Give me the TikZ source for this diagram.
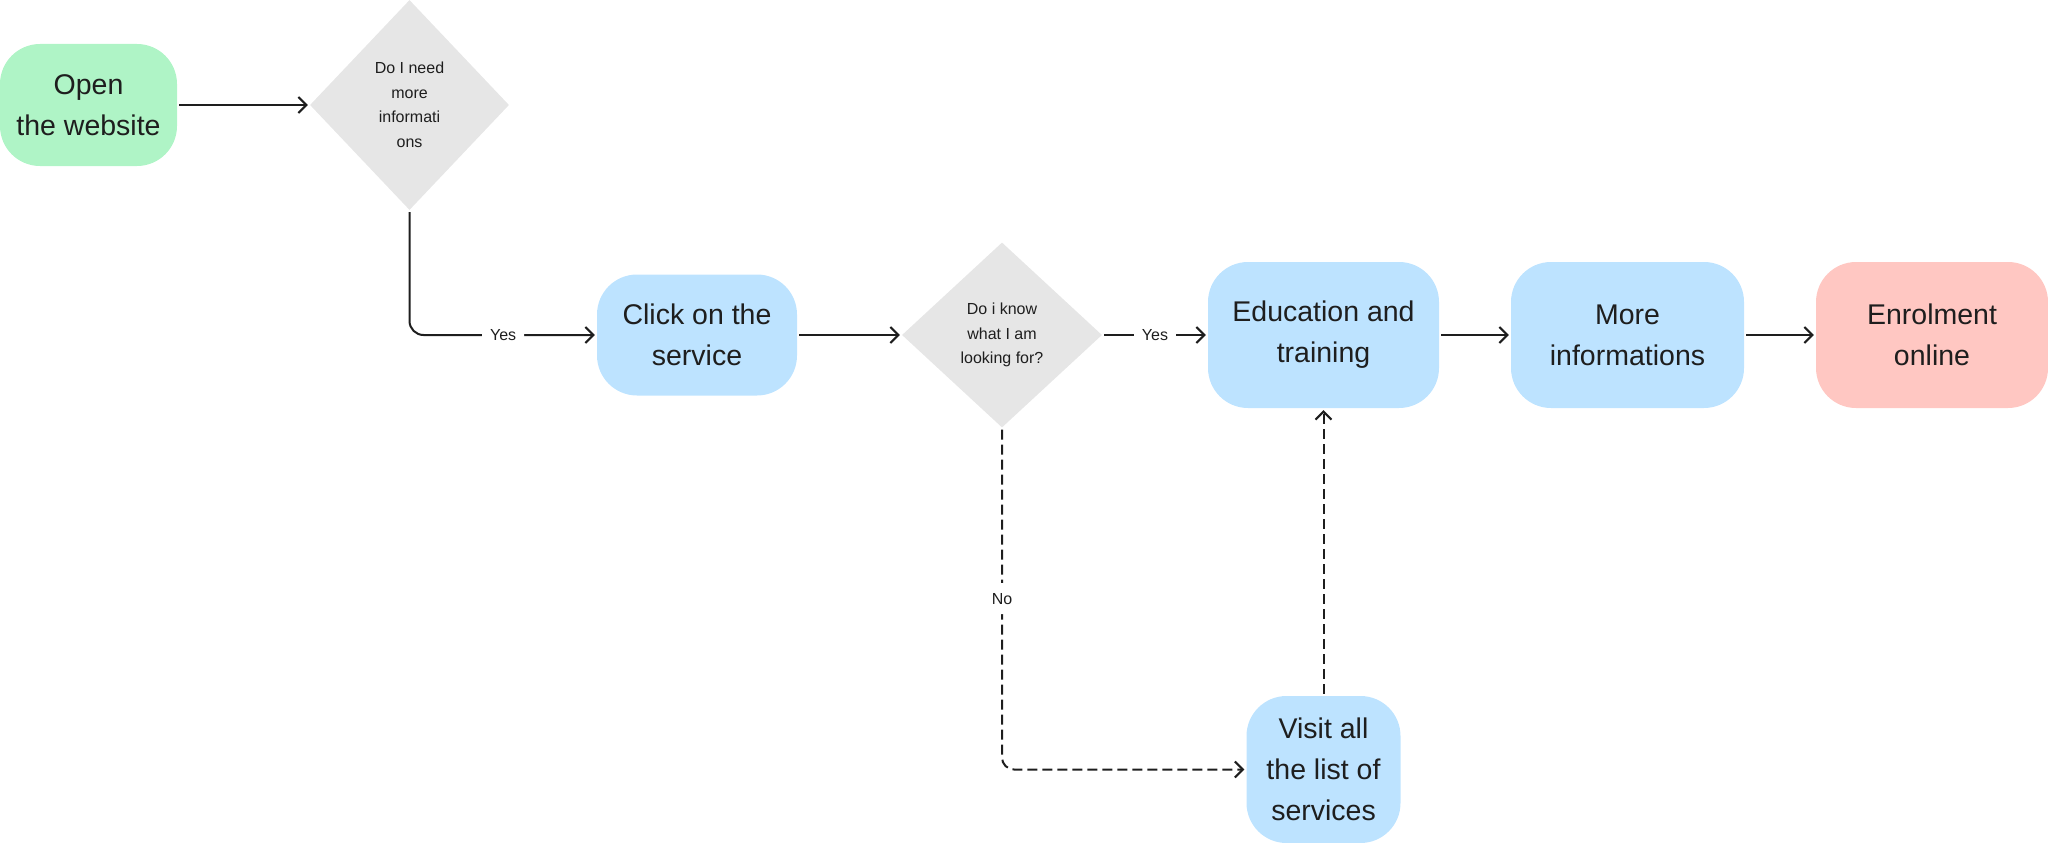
\documentclass[tikz,border=0pt]{standalone}
\usepackage{fontspec}
\setmainfont{Liberation Sans}
\usetikzlibrary{shapes.geometric,arrows.meta}
\definecolor{ink}{HTML}{1E1E1E}
\definecolor{greenfill}{HTML}{AFF4C6}
\definecolor{bluefill}{HTML}{BDE3FF}
\definecolor{redfill}{HTML}{FFC7C2}
\definecolor{decgray}{HTML}{E6E6E6}
\begin{document}
\begin{tikzpicture}[x=1pt,y=-1pt,
  box/.style={rectangle, rounded corners=40pt, inner sep=0pt, align=center, text=ink,
    font=\fontsize{28.5}{41}\selectfont},
  dec/.style={diamond, fill=decgray, inner sep=0pt, align=center, text=ink,
    font=\fontsize{16}{24.5}\selectfont},
  conn/.style={draw=ink, line width=2pt, -{Straight Barb[length=8pt,width=16pt]},
    shorten >=2pt, shorten <=2pt},
  dashconn/.style={conn, dash pattern=on 10pt off 5pt},
  lab/.style={fill=white, text=ink, font=\fontsize{16}{19}\selectfont,
    inner xsep=8pt, inner ysep=10pt}]
\useasboundingbox (0,0) rectangle (2048,843);

\node[box, fill=greenfill, minimum width=177pt, minimum height=122pt] (open) at (88.5,105) {Open\\the website};
\node[dec, minimum width=199pt, minimum height=210pt] (d1) at (409.5,105) {Do I need\\more\\informati\\ons};
\node[box, fill=bluefill, minimum width=200pt, minimum height=121pt] (click) at (697,335) {Click on the\\service};
\node[dec, minimum width=200pt, minimum height=185pt] (d2) at (1002,335) {Do i know\\what I am\\looking for?};
\node[box, fill=bluefill, minimum width=231pt, minimum height=146pt] (edu) at (1323.5,335) {Education and\\training};
\node[box, fill=bluefill, minimum width=233pt, minimum height=146pt] (more) at (1627.5,335) {More\\informations};
\node[box, fill=redfill, minimum width=232pt, minimum height=146pt] (enrol) at (1932,335) {Enrolment\\online};
\node[box, fill=bluefill, minimum width=154pt, minimum height=147pt] (visit) at (1323.5,769.5) {Visit all\\the list of\\services};

\draw[conn] (open.east) -- (d1.west);
\draw[conn, rounded corners=14pt] (d1.south) |- node[lab, pos=0.75] {Yes} (click.west);
\draw[conn] (click.east) -- (d2.west);
\draw[conn] (d2.east) -- node[lab] {Yes} (edu.west);
\draw[conn] (edu.east) -- (more.west);
\draw[conn] (more.east) -- (enrol.west);
\draw[dashconn, rounded corners=12pt] (d2.south) |- node[lab, pos=0.25] {No} (visit.west);
\draw[dashconn] (visit.north) -- (edu.south);
\end{tikzpicture}
\end{document}
